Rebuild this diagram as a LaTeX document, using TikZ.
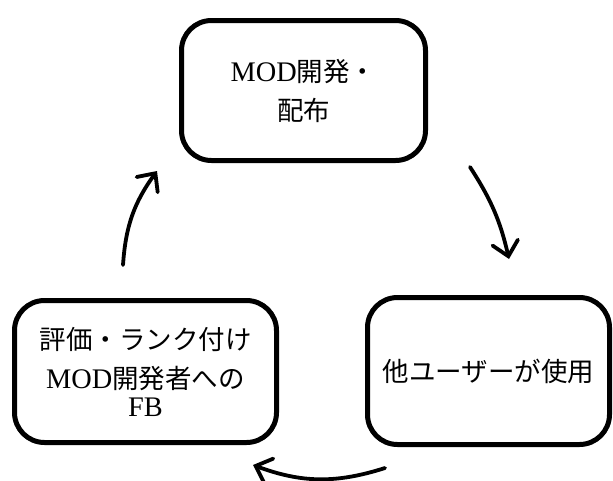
\documentclass[tikz,border=0pt]{standalone}
\usepackage{fontspec}
\setmainfont[Scale=1.07]{Liberation Serif}
\newfontfamily\cjk{Noto Sans CJK JP}
\usetikzlibrary{arrows.meta}
\tikzset{
  stagebox/.style={draw=black, line width=5pt, rounded corners=30pt, fill=white,
    align=center, inner sep=0pt, font=\fontsize{26.5pt}{39pt}\selectfont},
  cyclearrow/.style={line width=3.8pt, line cap=round,
    -{Straight Barb[length=14pt, width=26pt, line cap=round]}}
}
\begin{document}
\begin{tikzpicture}[x=1pt,y=-1pt]
\useasboundingbox (0,0) rectangle (613,480);
\node[stagebox, minimum width=244pt, minimum height=140pt] (dev) at (303.5,90.5)
  {MOD{\cjk 開発・}\\{\cjk 配布}};
\node[stagebox, minimum width=242pt, minimum height=147pt] (use) at (488.5,371)
  {{\cjk 他ユーザーが使用}};
\node[stagebox, minimum width=262pt, minimum height=142pt] (eval) at (145.5,371.5)
  {{\cjk 評価・ランク付け}\\MOD{\cjk 開発者への}\\[-11pt]FB};
\coordinate (a1s) at (470,167);
\coordinate (a1e) at (509,259);
\coordinate (a2s) at (385,468);
\coordinate (a2e) at (253,465);
\coordinate (a3s) at (123,265);
\coordinate (a3e) at (157,171);
\draw[cyclearrow] (a1s) to[bend left=10] (a1e);
\draw[cyclearrow] (a2s) to[bend left=19] (a2e);
\draw[cyclearrow] (a3s) to[bend left=16] (a3e);
\end{tikzpicture}
\end{document}
